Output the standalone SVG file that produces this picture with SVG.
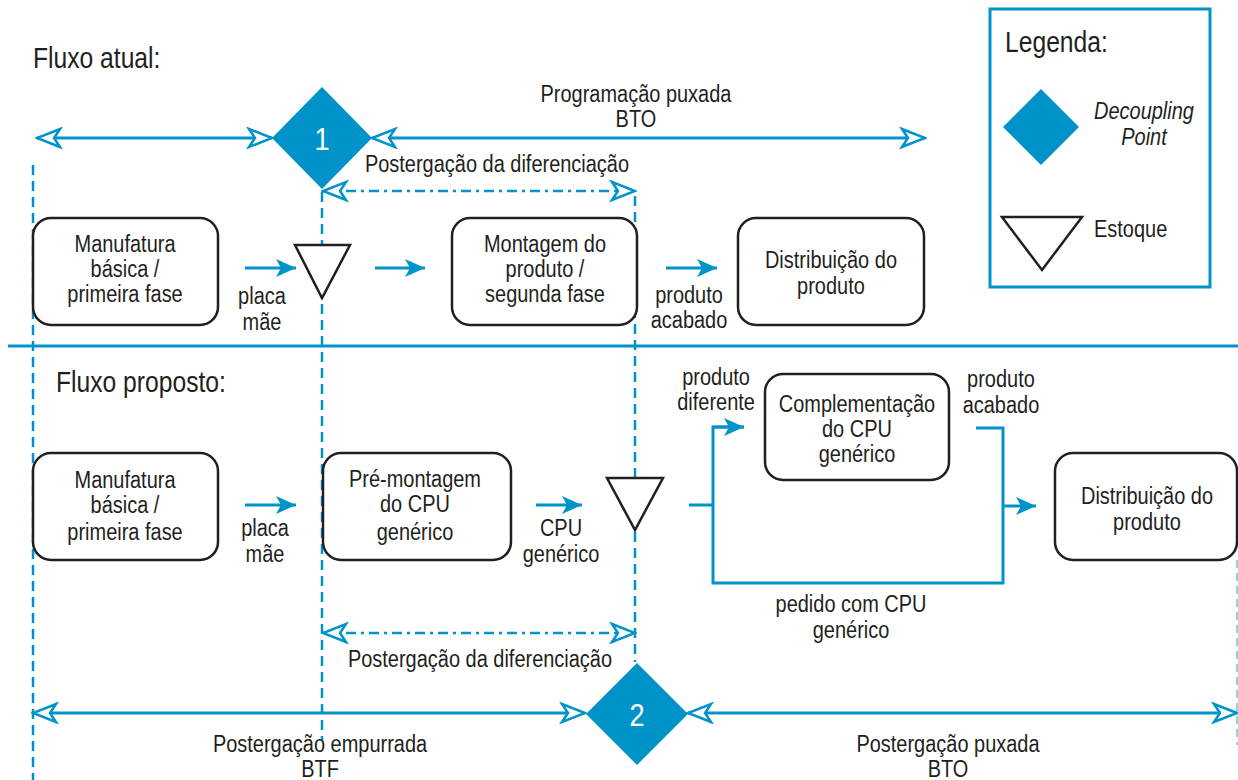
<svg xmlns="http://www.w3.org/2000/svg" width="1238" height="780" viewBox="0 0 1238 780">
<style>
text{font-family:"Liberation Sans",Arial,sans-serif;fill:#231f20;font-size:23.5px}
.c{text-anchor:middle}
.box{fill:#fff;stroke:#231f20;stroke-width:2.5}
.tri{fill:#fff;stroke:#231f20;stroke-width:2.5;stroke-linejoin:miter}
.dia{fill:#0093c9}
.num{fill:#fff;font-size:32px;text-anchor:middle}
.ln{fill:none;stroke:#0093c9;stroke-width:3}
.dv{fill:none;stroke:#0093c9;stroke-width:2.5;stroke-dasharray:10 6}
.dd{fill:none;stroke:#0093c9;stroke-width:2.5;stroke-dasharray:10 5 3 5}
.title{font-size:29px}
</style>
<defs>
<marker id="open" viewBox="0 0 28 22" refX="26" refY="11" markerWidth="28" markerHeight="22" markerUnits="userSpaceOnUse" orient="auto-start-reverse">
<path d="M3,2 L26,11 L3,20 L9,11 Z" fill="#fff" stroke="#0093c9" stroke-width="2.5" stroke-linejoin="miter"/>
</marker>
<marker id="fill" viewBox="0 0 20 18" refX="20" refY="9" markerWidth="20" markerHeight="18" markerUnits="userSpaceOnUse" orient="auto">
<path d="M0,0 L20,9 L0,18 L5,9 Z" fill="#0093c9"/>
</marker>
</defs>
<rect width="1238" height="780" fill="#fff"/>

<g id="connectors">
<line class="dv" x1="33" y1="165" x2="33" y2="780"/>
<line class="dv" x1="322" y1="192" x2="322" y2="740"/>
<line class="dv" x1="635" y1="196" x2="635" y2="662"/>
<line x1="1237" y1="560" x2="1237" y2="745" stroke="#7fbfe0" stroke-width="1.5" stroke-dasharray="8 5"/>
<line class="ln" x1="8" y1="346" x2="1238" y2="346"/>
<line class="ln" x1="37" y1="138" x2="272" y2="138" marker-start="url(#open)" marker-end="url(#open)"/>
<line class="ln" x1="372" y1="138" x2="925" y2="138" marker-start="url(#open)" marker-end="url(#open)"/>
<line class="dd" x1="323" y1="191" x2="635" y2="191" marker-start="url(#open)" marker-end="url(#open)"/>
<line class="dd" x1="323" y1="633" x2="635" y2="633" marker-start="url(#open)" marker-end="url(#open)"/>
<line class="ln" x1="33" y1="713" x2="585" y2="713" marker-start="url(#open)" marker-end="url(#open)"/>
<line class="ln" x1="688" y1="713" x2="1237" y2="713" marker-start="url(#open)" marker-end="url(#open)"/>
<line class="ln" x1="245" y1="268" x2="296" y2="268" marker-end="url(#fill)"/>
<line class="ln" x1="375" y1="268" x2="425" y2="268" marker-end="url(#fill)"/>
<line class="ln" x1="666" y1="268" x2="717" y2="268" marker-end="url(#fill)"/>
<line class="ln" x1="245" y1="505" x2="296" y2="505" marker-end="url(#fill)"/>
<line class="ln" x1="536" y1="505" x2="582" y2="505" marker-end="url(#fill)"/>
<path class="ln" d="M689,505 H713"/>
<path class="ln" d="M744,427 H713 V583 H1003 V428 H976"/>
<line class="ln" x1="713" y1="427" x2="744" y2="427" marker-end="url(#fill)"/>
<line class="ln" x1="1003" y1="506" x2="1036" y2="506" marker-end="url(#fill)"/>
</g>

<g id="titles" transform="scale(0.85 1)">
<text class="title" x="38.8" y="68">Fluxo atual:</text>
<text class="title" x="65.9" y="392">Fluxo proposto:</text>
</g>

<g id="dp1"><polygon class="dia" points="322,87 372,138 322,189 272,138"/><text class="num" x="322" y="150" transform="translate(48.3 0) scale(0.85 1)">1</text></g>
<g id="dp2"><polygon class="dia" points="637,663 688,714 637,765 586,714"/><text class="num" x="637" y="726" transform="translate(95.55 0) scale(0.85 1)">2</text></g>

<g id="lbl-top" transform="scale(0.85 1)">
<text class="c" x="748.2" y="102">Programação puxada</text>
<text class="c" x="748.2" y="127">BTO</text>
<text class="c" x="584.7" y="172">Postergação da diferenciação</text>
<text class="c" x="308.2" y="304">placa</text><text class="c" x="308.2" y="330">mãe</text>
<text class="c" x="810.6" y="303">produto</text><text class="c" x="810.6" y="328">acabado</text>
</g>

<g id="n-manuf1"><rect class="box" x="33" y="218" width="185" height="107" rx="18"/>
<g transform="scale(0.85 1)"><text class="c" x="147.1" y="252">Manufatura</text><text class="c" x="147.1" y="277">básica /</text><text class="c" x="147.1" y="302">primeira fase</text></g></g>
<g id="n-est1"><polygon class="tri" points="295,245 350,245 322,298"/></g>
<g id="n-mont"><rect class="box" x="452" y="218" width="185" height="107" rx="18"/>
<g transform="scale(0.85 1)"><text class="c" x="641.2" y="252">Montagem do</text><text class="c" x="641.2" y="277">produto /</text><text class="c" x="641.2" y="302">segunda fase</text></g></g>
<g id="n-dist1"><rect class="box" x="738" y="218" width="186" height="107" rx="18"/>
<g transform="scale(0.85 1)"><text class="c" x="977.6" y="268">Distribuição do</text><text class="c" x="977.6" y="294">produto</text></g></g>

<g id="legend"><rect x="990" y="9" width="220" height="278" fill="#fff" stroke="#0093c9" stroke-width="3"/>
<polygon class="dia" points="1041,89 1079,127 1041,165 1003,127"/>
<polygon class="tri" points="1002,217 1082,217 1042,270"/>
<g transform="scale(0.85 1)">
<text class="title" x="1182.4" y="52">Legenda:</text>
<text class="c" x="1345.9" y="119" font-style="italic">Decoupling</text>
<text class="c" x="1345.9" y="145" font-style="italic">Point</text>
<text x="1287.1" y="237">Estoque</text></g></g>

<g id="n-manuf2"><rect class="box" x="33" y="453" width="185" height="107" rx="18"/>
<g transform="scale(0.85 1)"><text class="c" x="147.1" y="488">Manufatura</text><text class="c" x="147.1" y="513">básica /</text><text class="c" x="147.1" y="540">primeira fase</text></g></g>
<g id="n-pre"><rect class="box" x="323" y="453" width="188" height="107" rx="18"/>
<g transform="scale(0.85 1)"><text class="c" x="488.2" y="487">Pré-montagem</text><text class="c" x="488.2" y="512">do CPU</text><text class="c" x="488.2" y="540">genérico</text></g></g>
<g id="n-est2"><polygon class="tri" points="607,478 663,478 635,530"/></g>
<g id="n-comp"><rect class="box" x="765" y="374" width="184" height="106" rx="18"/>
<g transform="scale(0.85 1)"><text class="c" x="1008.2" y="412">Complementação</text><text class="c" x="1008.2" y="437">do CPU</text><text class="c" x="1008.2" y="462">genérico</text></g></g>
<g id="n-dist2"><rect class="box" x="1055" y="453" width="182" height="107" rx="18"/>
<g transform="scale(0.85 1)"><text class="c" x="1349.4" y="504">Distribuição do</text><text class="c" x="1349.4" y="530">produto</text></g></g>

<g id="lbl-bottom" transform="scale(0.85 1)">
<text class="c" x="311.8" y="536">placa</text><text class="c" x="311.8" y="562">mãe</text>
<text class="c" x="660" y="536">CPU</text><text class="c" x="660" y="562">genérico</text>
<text class="c" x="842.4" y="385">produto</text><text class="c" x="842.4" y="410">diferente</text>
<text class="c" x="1177.6" y="387">produto</text><text class="c" x="1177.6" y="413">acabado</text>
<text class="c" x="1001.2" y="612">pedido com CPU</text><text class="c" x="1001.2" y="638">genérico</text>
<text class="c" x="564.7" y="667">Postergação da diferenciação</text>
<text class="c" x="376.5" y="752">Postergação empurrada</text>
<text class="c" x="376.5" y="777">BTF</text>
<text class="c" x="1115.3" y="752">Postergação puxada</text>
<text class="c" x="1115.3" y="777">BTO</text>
</g>
</svg>
